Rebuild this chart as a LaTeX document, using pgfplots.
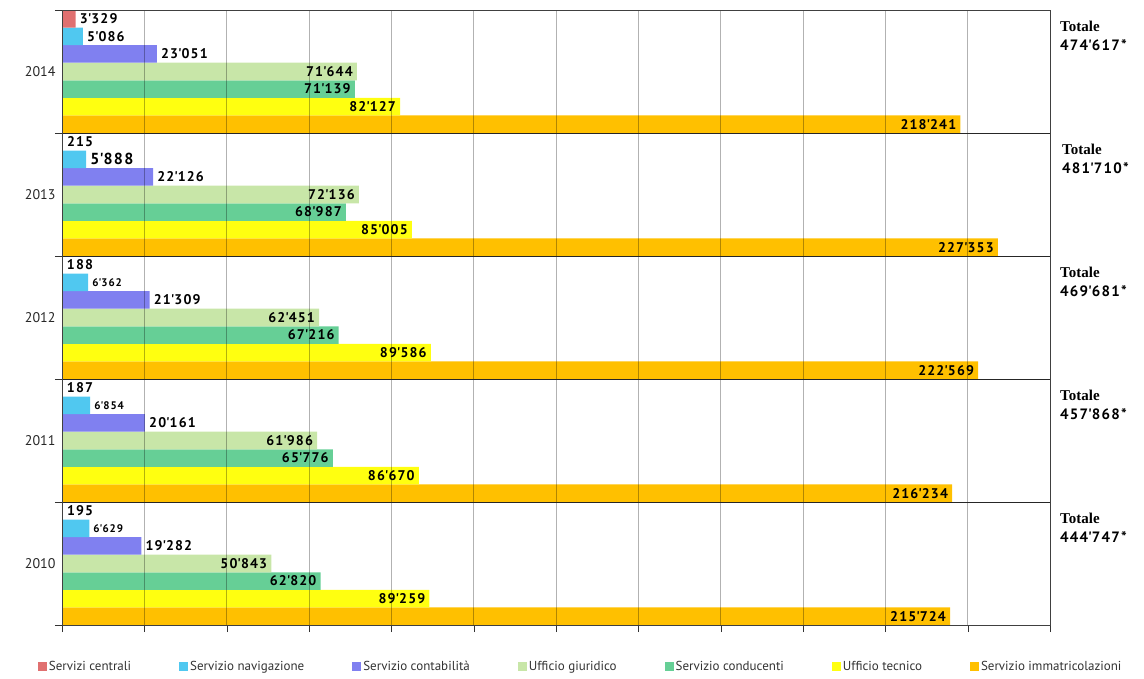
\documentclass[border=0pt]{standalone}
\usepackage{pgfplots}
\pgfplotsset{compat=1.18}
\usepackage{fontspec}
\setmainfont{PT Sans}
\newfontfamily\labfont[LetterSpace=8]{PT Sans}
\newfontfamily\serifb{Liberation Serif}
\definecolor{cA}{RGB}{224,112,112}
\definecolor{cB}{RGB}{80,200,240}
\definecolor{cC}{RGB}{128,128,240}
\definecolor{cD}{RGB}{200,230,168}
\definecolor{cE}{RGB}{102,207,150}
\definecolor{cF}{RGB}{255,255,16}
\definecolor{cG}{RGB}{255,192,0}
\begin{document}
\begin{tikzpicture}
\path[use as bounding box] (0,0) rectangle (1144pt,678pt);
\begin{axis}[
  at={(62pt,53pt)}, anchor=south west,
  width=988pt, height=615pt, scale only axis,
  xmin=0, xmax=240000, ymin=-0.5, ymax=4.5,
  enlargelimits=false,
  scaled x ticks=false,
  xbar=0pt, bar width=17.57pt,
  xtick={0,20000,...,240000}, xticklabels={},
  ytick={-0.5,0.5,1.5,2.5,3.5,4.5}, yticklabels={},
  extra y ticks={0,1,2,3,4},
  extra y tick labels={2010,2011,2012,2013,2014},
  extra y tick style={major tick length=0pt, grid=none,
     tick label style={font=\fontsize{14}{16}\selectfont, text=black!85, xshift=-3pt}},
  tick align=outside, major tick length=7pt, tick pos=left,
  tick style={black!80},
  xmajorgrids, ymajorgrids,
  x grid style={black, opacity=0.3},
  y grid style={black!85},
  axis on top,
  axis line style={black!75},
  clip=false,
  point meta=x,
  visualization depends on={value \thisrow{a} \as \labanchor},
  visualization depends on={value \thisrow{fs} \as \labfs},
  nodes near coords={\pgfmathprintnumber[fixed,precision=0,1000 sep={\textquotesingle},assume math mode=true]{\pgfplotspointmeta}},
  every node near coord/.append style={anchor=\labanchor, font=\labfont\bfseries\fontsize{\labfs}{\labfs}\selectfont, inner sep=4pt, text=black},
  legend image code/.code={\fill[#1] (0pt,-4.5pt) rectangle (9pt,4.5pt);},
  reverse legend,
  legend style={at={(0.525,-0.067)}, anchor=center, legend columns=-1, draw=none,
     font=\fontsize{13}{15}\selectfont, text=black!80,
     /tikz/every even column/.append style={column sep=46pt}},
]
\addplot[fill=cG, draw=none] table[x=x,y=y] {
x y a fs
215724 0 east 14
216234 1 east 14
222569 2 east 14
227353 3 east 14
218241 4 east 14
};
\addlegendentry{Servizio immatricolazioni}
\addplot[fill=cF, draw=none] table[x=x,y=y] {
x y a fs
89259 0 east 14
86670 1 east 14
89586 2 east 14
85005 3 east 14
82127 4 east 14
};
\addlegendentry{Ufficio tecnico}
\addplot[fill=cE, draw=none] table[x=x,y=y] {
x y a fs
62820 0 east 14
65776 1 east 14
67216 2 east 14
68987 3 east 14
71139 4 east 14
};
\addlegendentry{Servizio conducenti}
\addplot[fill=cD, draw=none] table[x=x,y=y] {
x y a fs
50843 0 east 14
61986 1 east 14
62451 2 east 14
72136 3 east 14
71644 4 east 14
};
\addlegendentry{Ufficio giuridico}
\addplot[fill=cC, draw=none] table[x=x,y=y] {
x y a fs
19282 0 west 14
20161 1 west 14
21309 2 west 14
22126 3 west 14
23051 4 west 14
};
\addlegendentry{Servizio contabilità}
\addplot[fill=cB, draw=none] table[x=x,y=y] {
x y a fs
6629 0 west 11
6854 1 west 11
6362 2 west 11
5888 3 west 16
5086 4 west 14
};
\addlegendentry{Servizio navigazione}
\addplot[fill=cA, draw=none] table[x=x,y=y] {
x y a fs
195 0 west 14
187 1 west 14
188 2 west 14
215 3 west 14
3329 4 west 14
};
\addlegendentry{Servizi centrali}
\node[anchor=north west, align=left, inner sep=0pt, font=\fontsize{15}{19}\selectfont\bfseries] at (axis cs:240000,4.5) [xshift=10pt,yshift=-11pt] {{\serifb Totale}\\{\labfont 474\textquotesingle 617*}};
\node[anchor=north west, align=left, inner sep=0pt, font=\fontsize{15}{19}\selectfont\bfseries] at (axis cs:240000,3.5) [xshift=12pt,yshift=-11pt] {{\serifb Totale}\\{\labfont 481\textquotesingle 710*}};
\node[anchor=north west, align=left, inner sep=0pt, font=\fontsize{15}{19}\selectfont\bfseries] at (axis cs:240000,2.5) [xshift=10pt,yshift=-11pt] {{\serifb Totale}\\{\labfont 469\textquotesingle 681*}};
\node[anchor=north west, align=left, inner sep=0pt, font=\fontsize{15}{19}\selectfont\bfseries] at (axis cs:240000,1.5) [xshift=10pt,yshift=-11pt] {{\serifb Totale}\\{\labfont 457\textquotesingle 868*}};
\node[anchor=north west, align=left, inner sep=0pt, font=\fontsize{15}{19}\selectfont\bfseries] at (axis cs:240000,0.5) [xshift=10pt,yshift=-11pt] {{\serifb Totale}\\{\labfont 444\textquotesingle 747*}};
\end{axis}
\end{tikzpicture}
\end{document}
